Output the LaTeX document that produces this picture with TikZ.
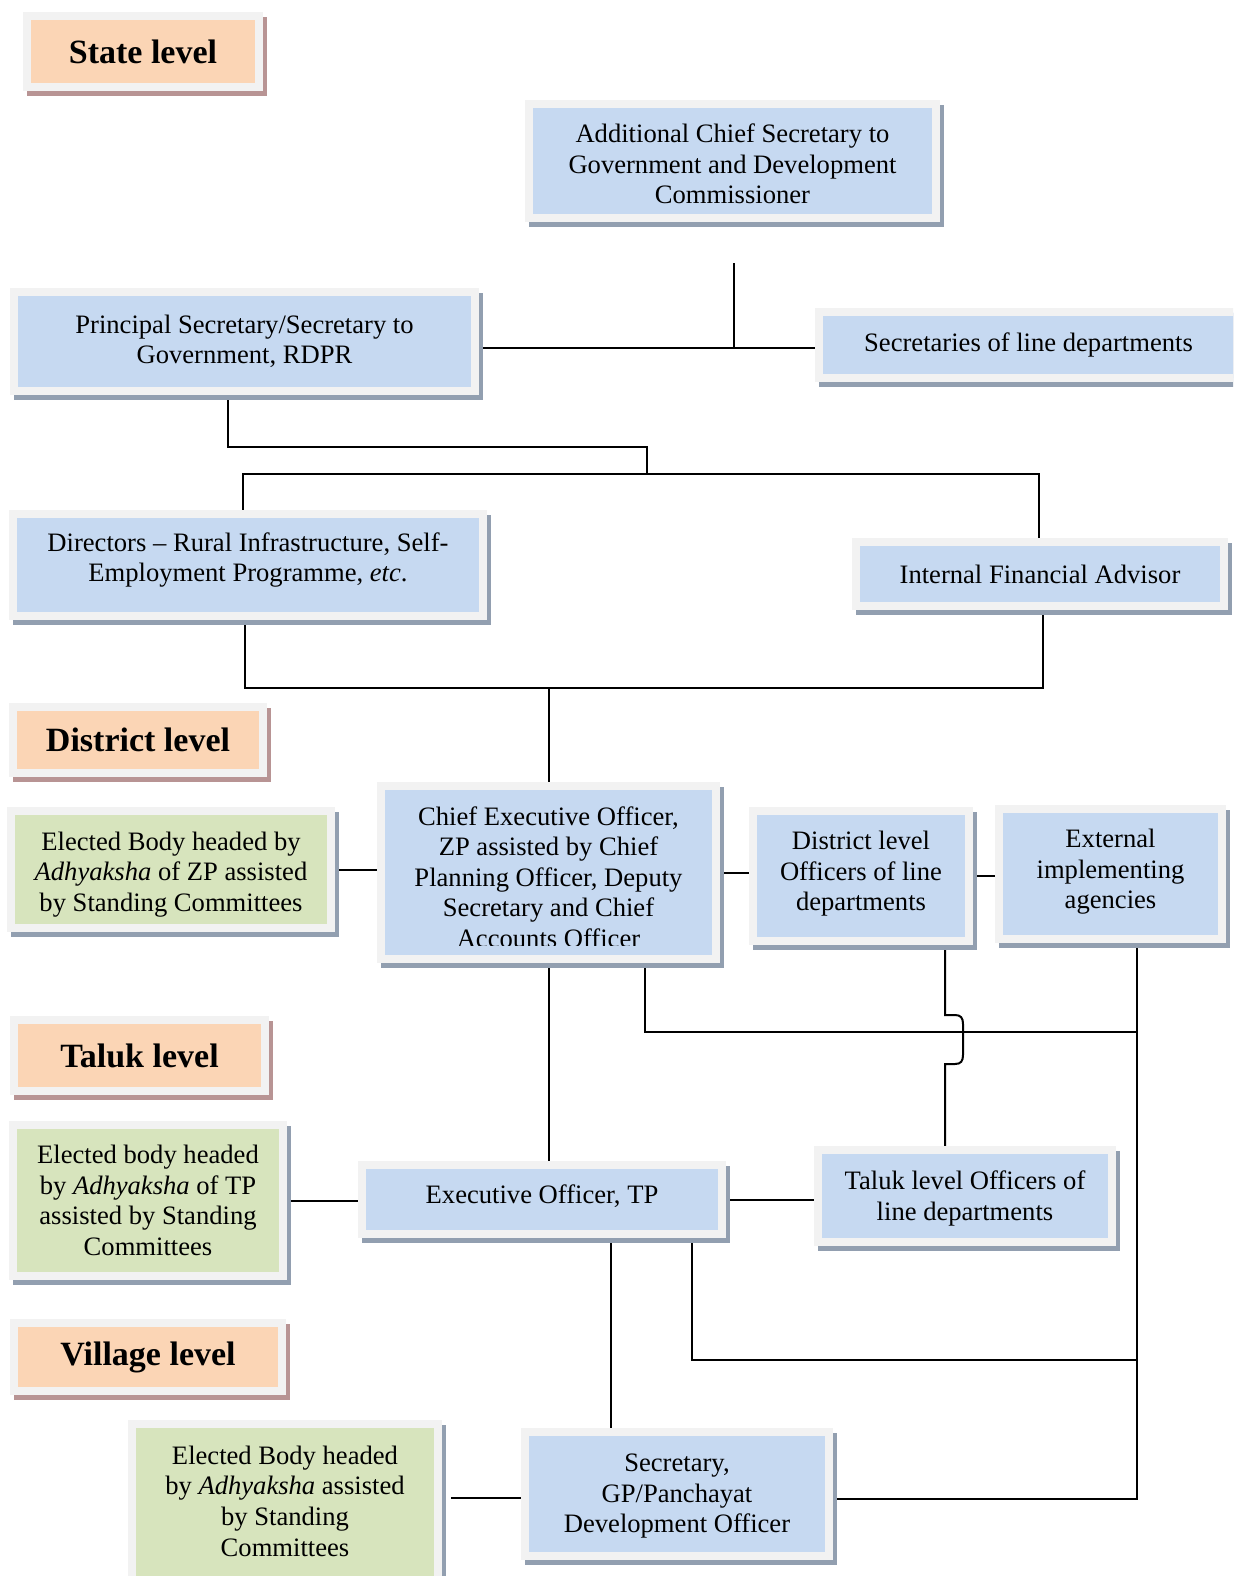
\documentclass[tikz,border=0pt]{standalone}
\usepackage{fontspec}
\setmainfont{Liberation Serif}
\usetikzlibrary{backgrounds}
\definecolor{framec}{HTML}{F2F2F2}
\definecolor{bluefill}{HTML}{C6D9F1}
\definecolor{blueshadow}{HTML}{929FB0}
\definecolor{greenfill}{HTML}{D7E4BD}
\definecolor{greenshadow}{HTML}{929FB0}
\definecolor{orangefill}{HTML}{FBD5B5}
\definecolor{orangeshadow}{HTML}{B89494}
\newcommand\bodyf{\fontsize{13.3}{15.3}\selectfont}
\newcommand\headf{\fontsize{17}{20}\selectfont\bfseries}
% [extra]{name}{x1}{y1}{x2}{y2}{colour}{text}
\newcommand\obox[8][]{%
  \fill[#7shadow] ({#3+4},{#4+5}) rectangle ({#5+4},{#6+5});
  \node[box, fill=#7fill, minimum width={(#5-#3-8)*0.5pt}, minimum height={(#6-#4-8)*0.5pt}, #1] (#2) at ({(#3+#5)/2},{(#4+#6)/2}) {#8};
}
\begin{document}
\begin{tikzpicture}[x=0.5pt,y=-0.5pt,
  box/.style={draw=framec, line width=4pt, inner sep=0pt, align=center, font=\bodyf},
  head/.style={font=\headf},
  bodytext/.style={inner sep=0pt, align=center, font=\bodyf},
  conn/.style={line width=1pt, draw=black}]
\useasboundingbox (0,0) rectangle (1233,1576);
\clip (0,0) rectangle (1233,1576);

% ---- boxes ----
\obox[head]{state}{23}{12}{263}{91}{orange}{State level}
\obox{acs}{525}{100}{940}{222}{blue}{\rule{0pt}{12.5pt}Additional Chief Secretary to\\Government and Development\\Commissioner}
\obox{prs}{10}{288}{479}{395}{blue}{Principal Secretary/Secretary to\\Government, RDPR}
\obox{sec}{815}{308}{1250}{382}{blue}{Secretaries of line departments\hspace*{4pt}}
\obox{dir}{9}{510}{487}{620}{blue}{Directors -- Rural Infrastructure, Self-\\Employment Programme, \textit{etc}.\rule[-8pt]{0pt}{0pt}}
\obox{ifa}{852}{538}{1228}{610}{blue}{Internal Financial Advisor}
\obox[head]{dist}{9}{703}{267}{777}{orange}{District level}
\obox{ezp}{7}{807}{335}{932}{green}{\rule{0pt}{14pt}Elected Body headed by\\\textit{Adhyaksha} of ZP assisted\\by Standing Committees}
\obox{ceo}{377}{782}{720}{963}{blue}{}
\begin{scope}
  \clip (385,790) rectangle (712,945);
  \node[bodytext] (ceotxt) at (548.5,877) {Chief Executive Officer,\\ZP assisted by Chief\\Planning Officer, Deputy\\Secretary and Chief\\Accounts Officer};
\end{scope}
\obox{dlo}{749}{807}{973}{945}{blue}{District level\\Officers of line\\departments\rule[-5pt]{0pt}{0pt}}
\obox{ext}{995}{805}{1226}{943}{blue}{External\\implementing\\agencies\rule[-5pt]{0pt}{0pt}}
\obox[head]{taluk}{10}{1016}{269}{1095}{orange}{Taluk level}
\obox{etp}{9}{1121}{287}{1280}{green}{Elected body headed\\by \textit{Adhyaksha} of TP\\assisted by Standing\\Committees}
\obox{eo}{358}{1161}{726}{1238}{blue}{Executive Officer, TP\rule[-5pt]{0pt}{0pt}}
\obox{tlo}{814}{1146}{1116}{1246}{blue}{\rule{0pt}{12pt}Taluk level Officers of\\line departments}
\obox[head]{vill}{10}{1319}{286}{1395}{orange}{Village level}
\obox{evb}{128}{1420}{442}{1600}{green}{}
\node[bodytext] (evbtxt) at (285,1501) {Elected Body headed\\by \textit{Adhyaksha} assisted\\by Standing\\Committees};
\obox{gp}{521}{1428}{833}{1560}{blue}{\rule{0pt}{11pt}Secretary,\\GP/Panchayat\\Development Officer}

% ---- connectors ----
\begin{pgfonlayer}{background}
\coordinate (jA) at (734,348);
\draw[conn] (734,263) -- (jA);
\draw[conn] (prs.east |- jA) -- (sec.west |- jA);
\coordinate (jB) at (228,447);
\coordinate (jC) at (647,447);
\draw[conn] (prs.south -| jB) -- (jB) -- (jC) -- (647,474);
\coordinate (jD) at (243,474);
\coordinate (jE) at (1039,474);
\draw[conn] (dir.north -| jD) -- (jD) -- (jE) -- (ifa.north -| jE);
\coordinate (jF) at (245,688);
\coordinate (jG) at (1043,688);
\draw[conn] (dir.south -| jF) -- (jF) -- (jG) -- (ifa.south -| jG);
\draw[conn] (ceo.north |- jF) -- (ceo.north);
\draw[conn] (ezp.east) -- (ezp.east -| ceo.west);
\draw[conn] (ceo.east) -- (ceo.east -| dlo.west);
\draw[conn] (dlo.east) -- (dlo.east -| ext.west);
\draw[conn] (ceo.south) -- (ceo.south |- eo.north);
\coordinate (jH) at (645,1032);
\coordinate (jI) at (1137,1032);
\draw[conn] (ceo.south -| jH) -- (jH) -- (jI);
\coordinate (jJ) at (1137,1499);
\draw[conn] (ext.south -| jJ) -- (jJ) -- (jJ -| gp.east);
\coordinate (jK) at (945,1015);
\draw[conn] (dlo.south -| jK) -- (jK) -- (955,1015)
   .. controls (961,1015) and (963,1018) .. (963,1024) -- (963,1055)
   .. controls (963,1061) and (961,1064) .. (955,1064) -- (945,1064)
   -- (tlo.north -| jK);
\draw[conn] (etp.east) -- (etp.east -| eo.west);
\draw[conn] (eo.east) -- (eo.east -| tlo.west);
\coordinate (jL) at (611,1238);
\draw[conn] (eo.south -| jL) -- (gp.north -| jL);
\coordinate (jM) at (692,1360);
\draw[conn] (eo.south -| jM) -- (jM) -- (jM -| jJ);
\coordinate (jN) at (451,1498);
\draw[conn] (jN) -- (jN -| gp.west);
\end{pgfonlayer}
\end{tikzpicture}
\end{document}
